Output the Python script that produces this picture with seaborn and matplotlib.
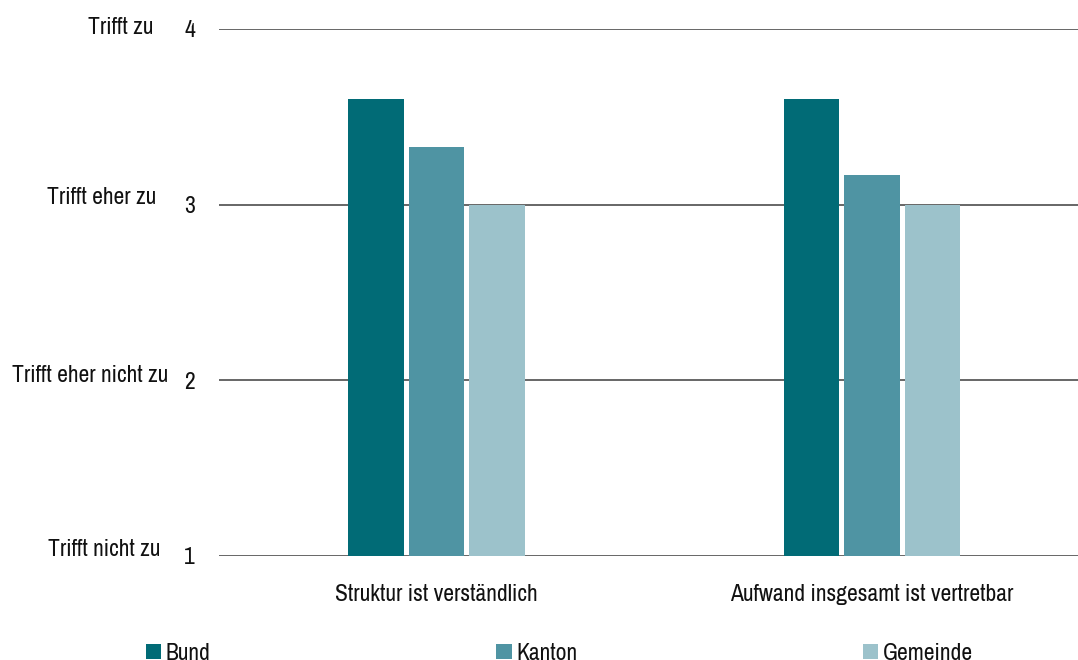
import matplotlib
matplotlib.use("Agg")
import matplotlib.pyplot as plt
from matplotlib.patches import Patch
import pandas as pd
import seaborn as sns

# Survey results: mean rating per statement and government level (1 = trifft nicht zu ... 4 = trifft zu)
aussagen = ["Struktur ist verständlich", "Aufwand insgesamt ist vertretbar"]
ebenen = ["Bund", "Kanton", "Gemeinde"]
bund = [3.60, 3.60]
kanton = [3.33, 3.17]
gemeinde = [3.00, 3.00]
skala_werte = [1, 2, 3, 4]
skala_texte = ["Trifft nicht zu", "Trifft eher nicht zu", "Trifft eher zu", "Trifft zu"]
farben = ["#016b76", "#4f94a3", "#9cc2cb"]

rows = []
for ebene, werte in zip(ebenen, [bund, kanton, gemeinde]):
    for aussage, wert in zip(aussagen, werte):
        rows.append({"Aussage": aussage, "Ebene": ebene, "Wert": wert})
df = pd.DataFrame(rows)

sns.set_theme(style="white")
plt.rcParams["font.family"] = ["Archivo Narrow", "Liberation Sans", "DejaVu Sans"]
text_color = "#111111"
fs = 17

fig = plt.figure(figsize=(10.78, 6.60), dpi=100)
ax = fig.add_axes([0.2029, 0.1576, 0.808, 0.7985])

sns.barplot(data=df, x="Aussage", y="Wert", hue="Ebene", order=aussagen,
            hue_order=ebenen, palette=farben, width=0.417, gap=0.08,
            saturation=1, legend=False, ax=ax, zorder=3,
            edgecolor="none", linewidth=0)

ax.set_ylim(1, 4)
ax.set_yticks(skala_werte)
ax.set_yticklabels([str(v) for v in skala_werte])
ax.set_xlabel("")
ax.set_ylabel("")
ax.set_axisbelow(True)
ax.grid(axis="y", color="#666666", linewidth=1.4, zorder=0)
ax.grid(axis="x", visible=False)
for s in ax.spines.values():
    s.set_visible(False)
ax.tick_params(axis="y", length=0, pad=17, labelsize=fs, labelcolor=text_color)
ax.tick_params(axis="x", length=0, pad=20, labelsize=fs, labelcolor=text_color)

# Verbal scale labels to the left of the numeric ticks
label_x = [48, 12, 47, 88]
label_y = [550, 376, 197, 27]
for txt, xp, yp in zip(skala_texte, label_x, label_y):
    fig.text(xp / 1078, 1 - yp / 660, txt, ha="left", va="center",
             fontsize=fs, color=text_color)

handles = [Patch(facecolor=c, edgecolor="none", label=e) for c, e in zip(farben, ebenen)]
fig.legend(handles=handles, loc="upper left", bbox_to_anchor=(146 / 1078, 1 - 643 / 660),
           ncol=3, frameon=False, fontsize=fs, handlelength=0.64, handleheight=0.6,
           handletextpad=0.2, columnspacing=12.1, borderpad=0, borderaxespad=0,
           labelcolor=text_color)

fig.savefig("out.png", dpi=100)
